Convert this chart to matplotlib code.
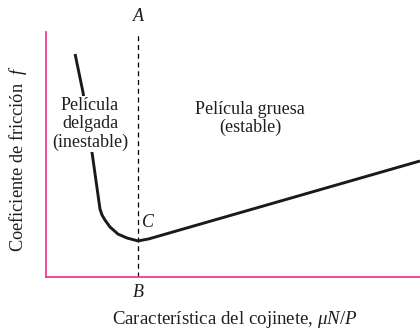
import matplotlib
matplotlib.use("Agg")
import matplotlib.pyplot as plt

plt.rcParams['font.family'] = ['Liberation Serif', 'DejaVu Serif']
plt.rcParams['mathtext.fontset'] = 'custom'
plt.rcParams['mathtext.rm'] = 'Liberation Serif'
plt.rcParams['mathtext.it'] = 'Liberation Serif:italic'

# Conceptual curve: bearing characteristic (x) vs friction coefficient (f)
char_x = [0.79, 1.00, 1.24, 1.455, 1.509, 1.589, 1.722, 1.936, 2.176, 2.47, 2.75, 10.0]
fric_f = [9.09, 7.54, 5.10, 2.77, 2.53, 2.32, 2.04, 1.75, 1.59, 1.47, 1.55, 4.73]
x_boundary = 2.47  # line A-B
region_labels = ["Película\ndelgada\n(inestable)", "Película gruesa\n(estable)"]
pink = '#EC3C96'
txt = '#1e1e1e'

fig = plt.figure(figsize=(4.2, 3.3), dpi=100)
ax = fig.add_axes([45.5/420, 53/330, 374.5/420, 245.3/330])
ax.set_xlim(0, 10)
ax.set_ylim(0, 10)

ax.plot(char_x, fric_f, color='#1a1a1a', lw=2.1, solid_capstyle='butt',
        solid_joinstyle='round', zorder=2)
ax.axvline(x_boundary, color='black', lw=0.9, ls=(0, (4, 3)), zorder=1)

for s in ['top', 'right']:
    ax.spines[s].set_visible(False)
for s in ['left', 'bottom']:
    ax.spines[s].set_color(pink)
    ax.spines[s].set_linewidth(1.3)
ax.set_xticks([])
ax.set_yticks([])

ax.text(1.19, 6.24, region_labels[0], ha='center', va='center', fontsize=13,
        linespacing=1.08, color=txt, zorder=3,
        bbox=dict(facecolor='white', edgecolor='none', pad=1))
ax.text(5.46, 6.45, region_labels[1], ha='center', va='center', fontsize=13,
        linespacing=1.08, color=txt)
ax.text(2.74, 2.24, 'C', ha='center', va='center', fontsize=13, style='italic', color=txt)
ax.text(x_boundary, 10.6, 'A', ha='center', va='center', fontsize=13, style='italic',
        color=txt, clip_on=False)
ax.text(x_boundary, -0.65, 'B', ha='center', va='center', fontsize=13, style='italic',
        color=txt, clip_on=False)

fig.text(235/420, 1 - 320/330, r"Característica del cojinete, $\mu N/P$", ha='center', va='center',
         fontsize=13.6, color=txt)
fig.text(18/420, 1 - 159/330, r"Coeficiente de fricción  $f$", ha='center', va='center',
         fontsize=13.2, rotation=90, color=txt)

fig.savefig('out.png', dpi=100)
